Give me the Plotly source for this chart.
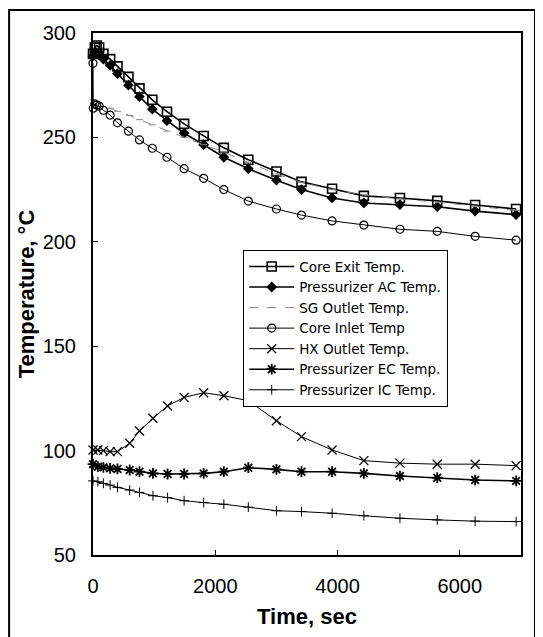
import plotly.graph_objects as go

# ---- data ----
t_exit = [0, 30, 60, 100, 170, 280, 400, 580, 760, 970, 1210, 1490, 1810, 2140, 2540, 3000, 3410, 3910, 4430, 5020, 5630, 6250, 6920]
core_exit = [290, 293, 294, 293, 290, 287.5, 284, 279, 273.5, 268, 262.3, 256.5, 250.7, 245, 239.3, 233.7, 228.7, 225.4, 222, 221, 219.6, 217.6, 215.7]
przr_ac = [289, 290.5, 290.5, 289.5, 287.5, 284.5, 280.5, 275, 269.5, 263.5, 258, 252, 246.5, 240.5, 235, 229.5, 225, 221, 218.6, 217.8, 216.8, 214.7, 213]

t_sg = [0, 100, 280, 400, 600, 760, 970, 1210, 1490, 1810, 2140, 2540, 3000, 3410, 3910, 4430, 5020, 5630, 6250, 6920]
sg_outlet = [268, 266.5, 264, 262.5, 260.5, 258.5, 256, 253, 250, 246.5, 243, 238, 232.5, 228.5, 225, 222.5, 220.5, 219, 217, 215]

t_inlet = [0, 5, 30, 60, 100, 170, 280, 400, 580, 760, 970, 1210, 1490, 1810, 2140, 2540, 3000, 3410, 3910, 4430, 5020, 5630, 6250, 6920]
core_inlet = [285.5, 264, 266, 265.5, 265, 263, 260.7, 257, 253, 248.8, 244.8, 240.5, 235, 230.4, 225, 219.5, 215.7, 212.8, 210, 208, 206, 205, 202.6, 200.8]

t_low = [0, 80, 170, 280, 400, 600, 760, 980, 1220, 1490, 1810, 2140, 2540, 3000, 3410, 3910, 4430, 5020, 5630, 6250, 6920]
hx_outlet = [100.3, 100.3, 100, 99.5, 99.5, 103.5, 109.4, 115.5, 121.4, 125.5, 127.7, 126.3, 123.9, 114.3, 106.7, 100.3, 95.2, 94, 93.5, 93.5, 92.8]
przr_ec = [93.5, 92.3, 92, 91.5, 91.2, 90.7, 89.9, 89.1, 88.8, 88.8, 89.1, 89.9, 91.8, 91, 89.9, 89.9, 89.1, 87.8, 87, 85.9, 85.5]
przr_ic = [85.5, 85.1, 84.3, 83.5, 82.4, 81.1, 80.0, 78.4, 77.5, 76.0, 75.1, 74.3, 72.9, 71.2, 70.8, 70.0, 68.8, 67.6, 66.8, 66.2, 66.0]

x_ticks = [0, 2000, 4000, 6000]
y_ticks = [50, 100, 150, 200, 250, 300]

FONT = "Liberation Sans, Arial, sans-serif"

fig = go.Figure()

def add(name, x, y, symbol, size, lw, color="black", dash="solid", mlw=1.2):
    fig.add_trace(go.Scatter(
        x=x, y=y, name=name, mode="lines+markers",
        line=dict(color=color, width=lw, dash=dash),
        marker=dict(symbol=symbol, size=size, color=color,
                    line=dict(color=color, width=mlw)),
        cliponaxis=False,
    ))

add("Core Exit Temp.", t_exit, core_exit, "square-open", 9, 1.6, mlw=1.6)
add("Pressurizer AC Temp.", t_exit, przr_ac, "diamond", 7, 1.6)
add("SG Outlet Temp.", t_sg, sg_outlet, "line-ew-open", 5, 1, color="#888888", dash="dash", mlw=1)
add("Core Inlet Temp", t_inlet, core_inlet, "circle-open", 8, 1, mlw=1.2)
add("HX Outlet Temp.", t_low, hx_outlet, "x-thin-open", 9, 1, mlw=1.3)
add("Pressurizer EC Temp.", t_low, przr_ec, "asterisk-open", 9, 1.6, mlw=1.8)
add("Pressurizer IC Temp.", t_low, przr_ic, "cross-thin-open", 7, 1, mlw=1)

# page body has an 8px margin, so the figure is shrunk and shifted accordingly
fig.update_layout(
    width=535, height=629,
    margin=dict(l=85, r=22, t=25, b=82),
    paper_bgcolor="white", plot_bgcolor="white",
    font=dict(family=FONT, color="black"),
    showlegend=True,
    legend=dict(
        x=0.3505, y=0.5843, xanchor="left", yanchor="top",
        bgcolor="white", bordercolor="black", borderwidth=1.2,
        font=dict(family="DejaVu Sans, sans-serif", size=13.5, color="black"),
        itemwidth=45, tracegroupgap=0,
    ),
    xaxis=dict(
        range=[0, 7000], tickvals=x_ticks, ticktext=[str(v) for v in x_ticks],
        showgrid=False, zeroline=False,
        showline=True, linecolor="black", linewidth=2, mirror=True,
        ticks="inside", ticklen=5, tickcolor="black", tickwidth=1,
        tickfont=dict(family=FONT, size=20),
        ticklabelstandoff=12,
        title=dict(text="<b>Time, sec</b>", font=dict(family=FONT, size=22), standoff=13),
    ),
    yaxis=dict(
        range=[50, 300], tickvals=y_ticks, ticktext=[str(v) for v in y_ticks],
        showgrid=False, zeroline=False,
        showline=True, linecolor="black", linewidth=2, mirror=True,
        ticks="inside", ticklen=5, tickcolor="black", tickwidth=1,
        tickfont=dict(family=FONT, size=20),
        ticklabelstandoff=11,
        title=dict(text="<b>Temperature, °C</b>", font=dict(family=FONT, size=22), standoff=2),
    ),
    shapes=[dict(type="rect", xref="paper", yref="paper",
                 x0=-0.196, x1=1.0327, y0=-0.18, y1=1.044,
                 line=dict(color="black", width=2), fillcolor="rgba(0,0,0,0)", layer="below")],
)

fig.write_html("out.html")
